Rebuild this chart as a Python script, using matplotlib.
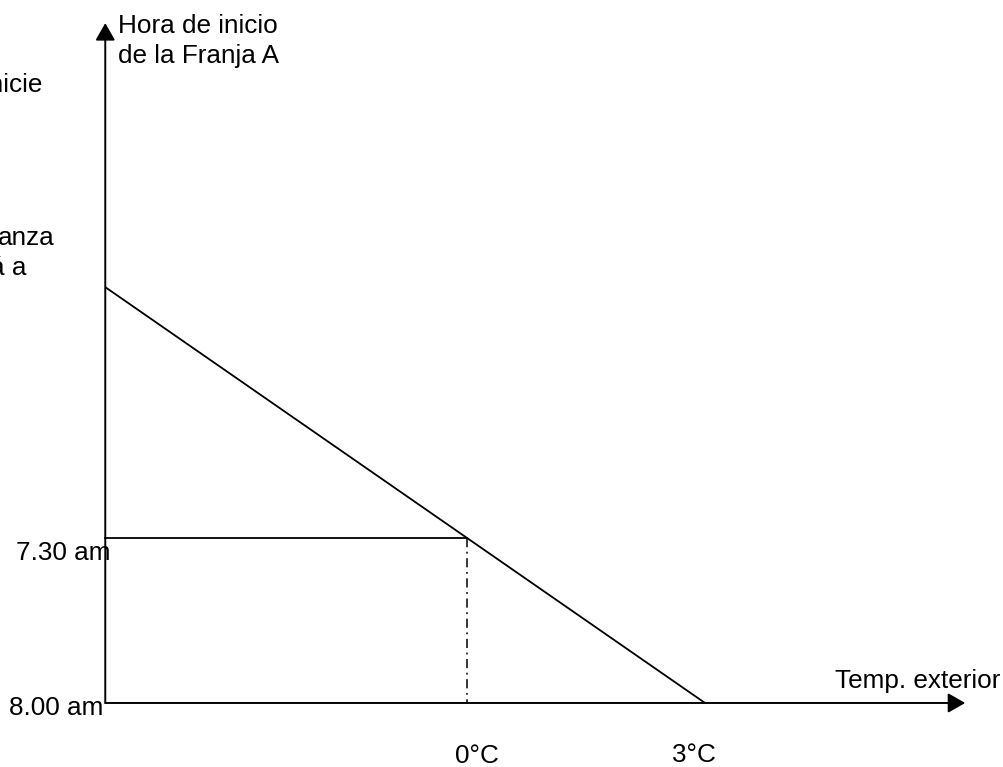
import matplotlib
matplotlib.use("Agg")
import matplotlib.pyplot as plt

# ---- data (temperature in °C, start time in decimal hours) ----
line_temps = [-4.56, 0.0, 3.0]          # diagonal curve points
line_times = [6.74, 7.5, 8.0]
ref_temp = 0.0                          # reference temperature (dash-dot)
ref_time = 7.5                          # 7.30 am
base_time = 8.0                         # 8.00 am
axis_temp_min = -4.56                   # position of vertical axis
axis_temp_max = 6.28                    # arrow tip of horizontal axis
axis_time_top = 5.94                    # arrow tip of vertical axis

time_labels = ["7.30 am", "8.00 am"]
temp_labels = ["0°C", "3°C"]
temp_label_vals = [0.0, 3.0]
y_axis_title = ["Hora de inicio", "de la Franja A"]
x_axis_title = "Temp. exterior"
cut_texts = ["inicie", "anza", "á a"]

plt.rcParams['font.family'] = ['Liberation Sans', 'DejaVu Sans']
FS = 18.8

fig = plt.figure(figsize=(10.04, 7.67), dpi=100)
ax = fig.add_axes([0, 0, 1, 1])
ax.set_xlim(-5.887, 6.769)
ax.set_ylim(8.194, 5.870)
ax.axis('off')

arrow_kw = dict(arrowstyle='-|>,head_length=1.05,head_width=0.6',
                lw=1.4, color='black', shrinkA=0, shrinkB=0, mutation_scale=10)
# vertical axis
ax.annotate('', xy=(axis_temp_min, axis_time_top), xytext=(axis_temp_min, base_time),
            arrowprops=arrow_kw)
# horizontal axis
ax.annotate('', xy=(axis_temp_max, base_time), xytext=(axis_temp_min, base_time),
            arrowprops=arrow_kw)

# diagonal line
ax.plot(line_temps, line_times, color='black', lw=1.3, solid_capstyle='butt')
# horizontal reference at 7.30
ax.plot([axis_temp_min, ref_temp], [ref_time, ref_time], color='black', lw=1.3)
# dash-dot vertical at 0 °C
ax.plot([ref_temp, ref_temp], [ref_time, base_time], color='black', lw=1.1,
        dashes=(6, 3, 1.2, 3))

# time labels
ax.annotate(time_labels[0], xy=(axis_temp_min, ref_time), xytext=(5, -22),
            textcoords='offset pixels', ha='right', va='baseline', fontsize=FS)
ax.annotate(time_labels[1], xy=(axis_temp_min, base_time), xytext=(-2, -12),
            textcoords='offset pixels', ha='right', va='baseline', fontsize=FS)

# temperature labels
offs = [(9.5, -60), (-11.5, -59)]
for lab, v, o in zip(temp_labels, temp_label_vals, offs):
    ax.annotate(lab, xy=(v, base_time), xytext=o, textcoords='offset pixels',
                ha='center', va='baseline', fontsize=FS)

# axis titles
ax.annotate(x_axis_title, xy=(axis_temp_max, base_time), xytext=(35, 15),
            textcoords='offset pixels', ha='right', va='baseline', fontsize=FS)
ax.annotate(y_axis_title[0], xy=(axis_temp_min, axis_time_top), xytext=(13, -10),
            textcoords='offset pixels', ha='left', va='baseline', fontsize=FS)
ax.annotate(y_axis_title[1], xy=(axis_temp_min, axis_time_top), xytext=(13, -40),
            textcoords='offset pixels', ha='left', va='baseline', fontsize=FS)

# partially cut-off texts at the left edge (as in the reference)
W, H = 1004, 767
for t, (px, py) in zip(cut_texts, [(43, 92), (55, 245), (27, 275)]):
    fig.text(px / W, 1 - py / H, t, ha='right', va='baseline', fontsize=FS)

fig.savefig('out.png', dpi=100)
